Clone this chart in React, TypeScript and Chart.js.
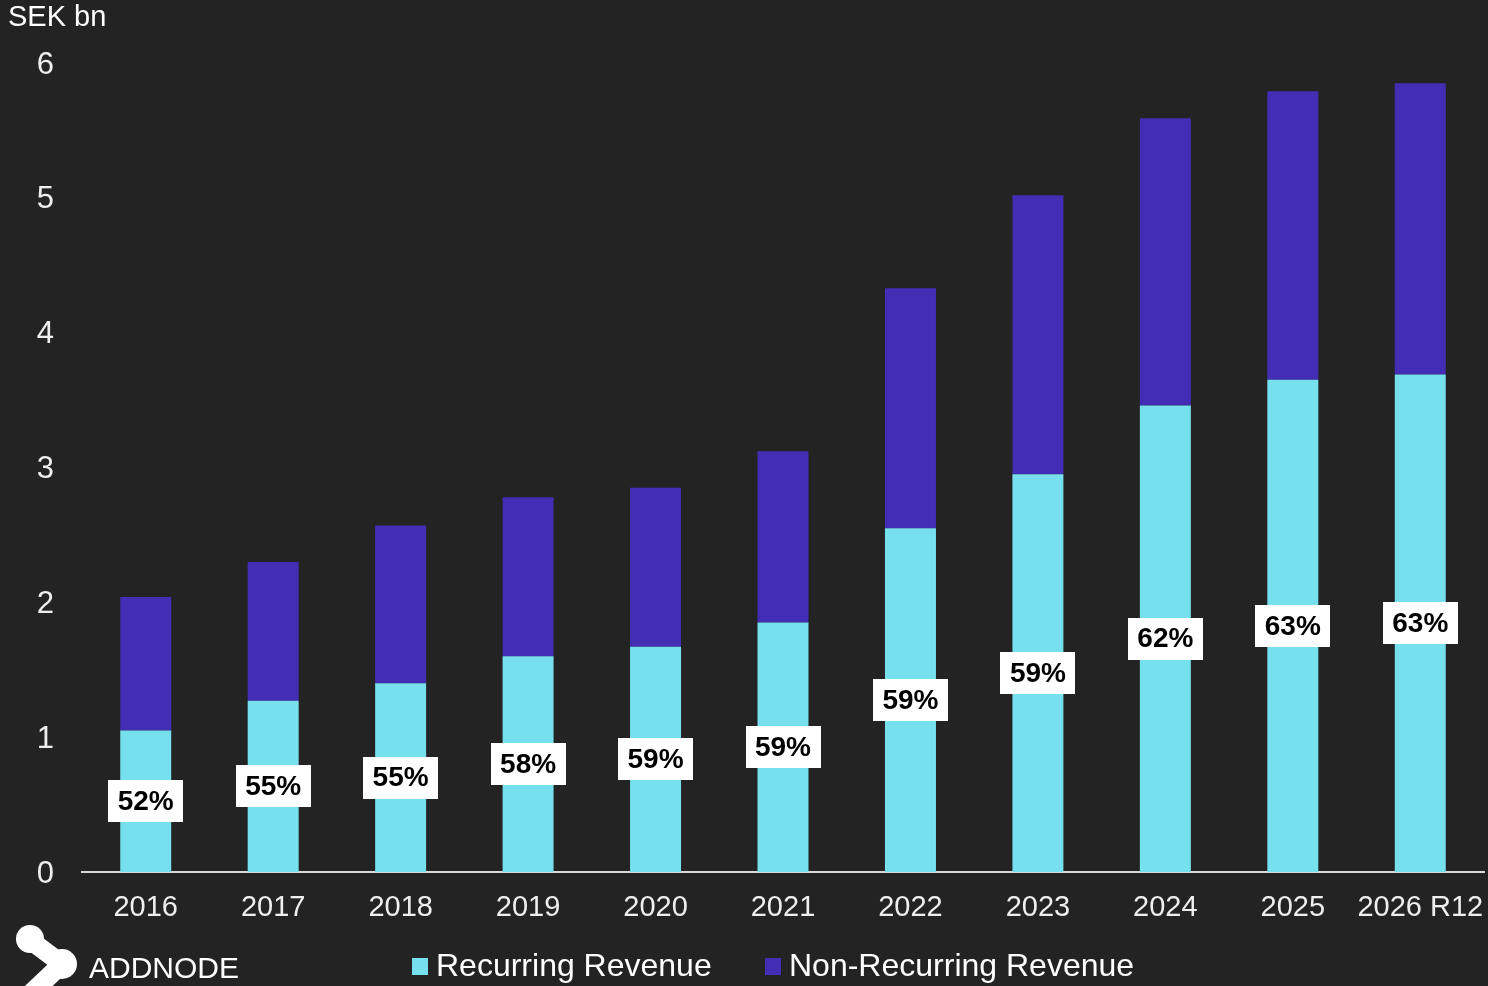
import React, { useEffect, useRef } from "react";
import { Chart, registerables } from "chart.js";

Chart.register(...registerables);

const categories = ["2016", "2017", "2018", "2019", "2020", "2021", "2022", "2023", "2024", "2025", "2026 R12"];
const recurring = [1.05, 1.27, 1.4, 1.6, 1.67, 1.85, 2.55, 2.95, 3.46, 3.65, 3.69];
const nonRecurring = [0.99, 1.03, 1.17, 1.18, 1.18, 1.27, 1.78, 2.07, 2.13, 2.14, 2.16];
const shareLabels = ["52%", "55%", "55%", "58%", "59%", "59%", "59%", "59%", "62%", "63%", "63%"];
const seriesNames = ["Recurring Revenue", "Non-Recurring Revenue"];

const BG = "#232323";
const CYAN = "#77E0EE";
const PURPLE = "#442DB5";
const FONT = "'Liberation Sans', Arial, sans-serif";

const overlayPlugin = {
  id: "overlay",
  afterDatasetsDraw(chart: any) {
    const ctx = chart.ctx;
    const meta = chart.getDatasetMeta(0);
    ctx.save();
    meta.data.forEach((el: any, i: number) => {
      const cy = (el.y + el.base) / 2;
      const w = 75;
      const h = 42;
      ctx.fillStyle = "#ffffff";
      ctx.fillRect(Math.round(el.x - w / 2), Math.round(cy - h / 2), w, h);
      ctx.fillStyle = "#000000";
      ctx.font = `bold 28px ${FONT}`;
      ctx.textAlign = "center";
      ctx.textBaseline = "middle";
      ctx.fillText(shareLabels[i], el.x, cy + 1);
    });
    ctx.restore();
  },
  afterDraw(chart: any) {
    const ctx = chart.ctx;
    ctx.save();
    ctx.fillStyle = "#ffffff";
    ctx.font = `29px ${FONT}`;
    ctx.textAlign = "left";
    ctx.textBaseline = "alphabetic";
    ctx.fillText("SEK bn", 8, 26);

    const items = [
      { x: 412, color: CYAN, label: seriesNames[0] },
      { x: 765, color: PURPLE, label: seriesNames[1] },
    ];
    ctx.font = `32px ${FONT}`;
    items.forEach((it) => {
      ctx.fillStyle = it.color;
      ctx.fillRect(it.x, 958, 16, 17);
      ctx.fillStyle = "#ffffff";
      ctx.fillText(it.label, it.x + 24, 976);
    });

    // logo
    ctx.strokeStyle = "#ffffff";
    ctx.fillStyle = "#ffffff";
    ctx.lineCap = "round";
    ctx.lineJoin = "round";
    ctx.lineWidth = 19;
    ctx.beginPath();
    ctx.moveTo(30, 940);
    ctx.lineTo(62, 964);
    ctx.lineTo(26, 998);
    ctx.stroke();
    ctx.beginPath();
    ctx.arc(30, 939, 14, 0, Math.PI * 2);
    ctx.fill();
    ctx.beginPath();
    ctx.arc(62, 964, 15, 0, Math.PI * 2);
    ctx.fill();
    ctx.font = `30px ${FONT}`;
    ctx.fillText("ADDNODE", 89, 978);
    ctx.fillText("GROUP", 89, 1008);
    ctx.restore();
  },
};

export default function App() {
  const ref = useRef<HTMLCanvasElement | null>(null);
  useEffect(() => {
    document.body.style.margin = "0";
    document.body.style.background = BG;
    const canvas = ref.current!;
    const chart = new Chart(canvas, {
      type: "bar",
      data: {
        labels: categories,
        datasets: [
          { label: seriesNames[0], data: recurring, backgroundColor: CYAN, borderWidth: 0 },
          { label: seriesNames[1], data: nonRecurring, backgroundColor: PURPLE, borderWidth: 0 },
        ],
      },
      options: {
        responsive: false,
        animation: false,
        maintainAspectRatio: false,
        devicePixelRatio: 1,
        layout: { padding: { top: 63, right: 4, left: 0, bottom: 0 } },
        datasets: { bar: { barPercentage: 0.4, categoryPercentage: 1.0 } },
        plugins: { legend: { display: false }, tooltip: { enabled: false } },
        scales: {
          x: {
            stacked: true,
            grid: { display: false, drawTicks: false },
            border: { display: true, color: "#d9d9d9", width: 2 },
            ticks: { color: "#eeeeee", font: { family: FONT, size: 29 }, padding: 19, maxRotation: 0, autoSkip: false },
            afterFit: (s: any) => {
              s.height = 114;
              s.paddingLeft = 0;
              s.paddingRight = 0;
            },
          },
          y: {
            stacked: true,
            min: 0,
            max: 6,
            grid: { display: false, drawTicks: false },
            border: { display: false },
            ticks: { stepSize: 1, color: "#eeeeee", font: { family: FONT, size: 31 }, padding: 28, labelOffset: 2 },
            afterFit: (s: any) => {
              s.width = 82;
              s.paddingTop = 0;
              s.paddingBottom = 0;
            },
          },
        },
      },
      plugins: [overlayPlugin],
    });
    return () => chart.destroy();
  }, []);
  return (
    <div style={{ position: "fixed", left: 0, top: 0, width: 1488, height: 986, background: BG, overflow: "hidden" }}>
      <canvas ref={ref} width={1488} height={986} style={{ display: "block" }} />
    </div>
  );
}
